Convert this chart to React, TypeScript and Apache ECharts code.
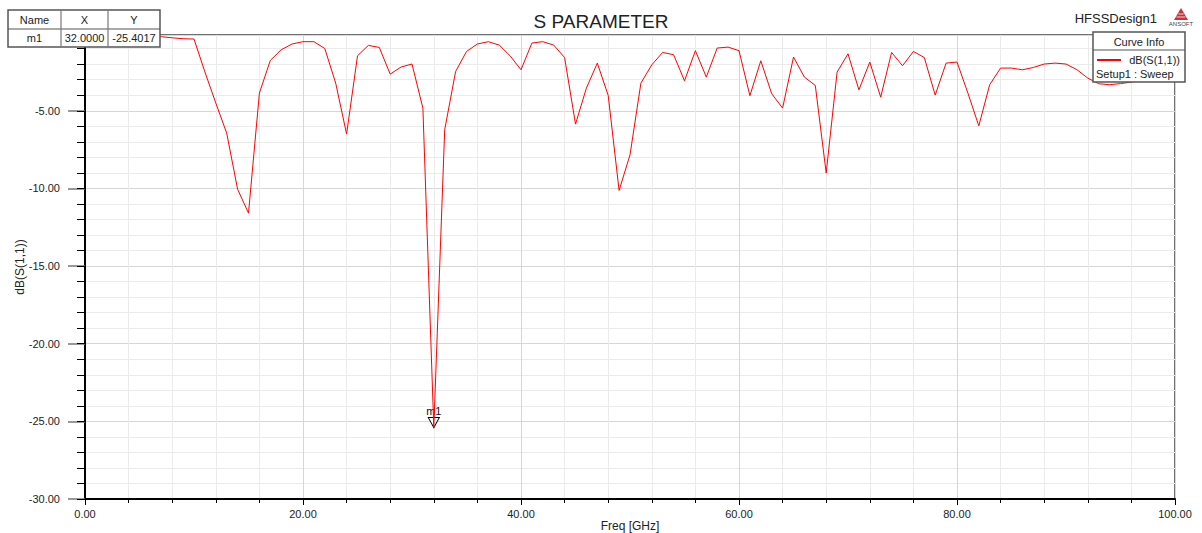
import React, { useEffect, useRef } from "react";
import * as echarts from "echarts";

const freqs: number[] = Array.from({ length: 101 }, (_, i) => i);
const s11: number[] = [
  -0.15, -0.15, -0.16, -0.17, -0.18, -0.2, -0.21, -0.23, -0.3, -0.36,
  -0.38, -2.5, -4.5, -6.44, -10.05, -11.59, -3.86, -1.76, -1.07, -0.7,
  -0.55, -0.55, -0.99, -3.22, -6.5, -1.46, -0.79, -0.92, -2.64, -2.18,
  -1.99, -4.83, -25.4017, -6.22, -2.47, -1.18, -0.7, -0.55, -0.77, -1.46,
  -2.36, -0.64, -0.55, -0.77, -1.57, -5.86, -3.54, -1.93, -4.01, -10.13,
  -7.84, -3.22, -2.04, -1.24, -1.39, -3.07, -1.13, -2.83, -0.96, -0.9,
  -1.13, -4.03, -1.78, -3.9, -4.83, -1.54, -2.83, -3.37, -9.01, -2.51,
  -1.33, -3.65, -1.86, -4.12, -1.24, -2.1, -1.18, -1.57, -3.99, -1.93,
  -1.86, -3.86, -5.97, -3.32, -2.25, -2.25, -2.36, -2.21, -1.99, -1.93,
  -1.99, -2.35, -2.9, -3.26, -3.32, -3.25, -3.15, -3.05, -2.95, -2.85,
  -2.75,
];
const markerName = "m1";
const markerX = 32;
const markerY = -25.4017;
const tableHeaders = ["Name", "X", "Y"];
const tableRow = ["m1", "32.0000", "-25.4017"];
const xAxisName = "Freq [GHz]";
const yAxisName = "dB(S(1,1))";

const FONT = "'Liberation Sans', Arial, sans-serif";

export default function App() {
  const ref = useRef<HTMLDivElement>(null);
  useEffect(() => {
    if (!ref.current) return;
    const chart = echarts.init(ref.current, undefined, { renderer: "svg" });
    const major = "#d6d6d6";
    const minor = "#ebebeb";
    const txt = { fontFamily: FONT, fontSize: 11, fill: "#222" };
    const colX = [8, 61, 108, 160];
    const option: any = {
      animation: false,
      backgroundColor: "#fff",
      textStyle: { fontFamily: FONT },
      title: {
        text: "S PARAMETER",
        left: "center",
        top: 7,
        textStyle: { fontFamily: FONT, fontSize: 19, fontWeight: "normal", color: "#222" },
      },
      grid: {
        left: 85,
        right: 27,
        top: 35,
        bottom: 34,
        containLabel: false,
        outerBoundsMode: "none",
        show: true,
        borderColor: "#444",
        borderWidth: 1.5,
        backgroundColor: "transparent",
      },
      xAxis: [
        {
          type: "value",
          min: 0,
          max: 100,
          interval: 20,
          position: "bottom",
          axisLine: { show: true, lineStyle: { color: "#000", width: 2 } },
          axisTick: { show: true, length: 6, lineStyle: { color: "#000" } },
          axisLabel: {
            margin: 9,
            fontFamily: FONT,
            fontSize: 11,
            color: "#222",
            formatter: (v: number) => v.toFixed(2),
          },
          splitLine: { show: false },
        },
        {
          type: "value",
          min: 0,
          max: 100,
          interval: 4,
          position: "bottom",
          axisLine: { show: false },
          axisTick: { show: true, length: 4, lineStyle: { color: "#000" } },
          axisLabel: { show: false },
          splitLine: {
            show: true,
            lineStyle: { color: [major, minor, minor, minor, minor], width: 1 },
          },
        },
      ],
      yAxis: [
        {
          type: "value",
          min: -30,
          max: -0.12,
          interval: 5,
          position: "left",
          axisLine: { show: true, lineStyle: { color: "#000", width: 2 } },
          axisTick: { show: true, length: 17, lineStyle: { color: "#777", width: 1.5 } },
          axisLabel: {
            margin: 25,
            fontFamily: FONT,
            fontSize: 11,
            color: "#222",
            showMaxLabel: false,
            formatter: (v: number) => v.toFixed(2),
          },
          splitLine: { show: false },
        },
        {
          type: "value",
          min: -30,
          max: -0.12,
          interval: 1,
          position: "left",
          axisLine: { show: false },
          axisTick: { show: true, length: 8, lineStyle: { color: "#000" } },
          axisLabel: { show: false },
          splitLine: {
            show: true,
            lineStyle: { color: [major, minor, minor, minor, minor], width: 1 },
          },
        },
      ],
      series: [
        {
          type: "line",
          xAxisIndex: 0,
          yAxisIndex: 0,
          data: freqs.map((f, i) => [f, s11[i]]),
          showSymbol: false,
          symbol: "none",
          lineStyle: { color: "#ff0000", width: 1 },
          itemStyle: { color: "#ff0000" },
          z: 5,
          markPoint: {
            symbol: "triangle",
            symbolRotate: 180,
            symbolSize: [11, 10],
            symbolOffset: [0, -5],
            itemStyle: { color: "#fff", borderColor: "#000", borderWidth: 1 },
            label: {
              show: true,
              position: "top",
              distance: 1,
              formatter: markerName,
              fontFamily: FONT,
              fontSize: 11,
              color: "#111",
            },
            data: [{ coord: [markerX, markerY] }],
          },
        },
      ],
      graphic: [
        {
          type: "text",
          x: 630,
          y: 526,
          style: { fontFamily: FONT, fontSize: 12, fill: "#222", text: xAxisName, textAlign: "center", textVerticalAlign: "middle" },
          z: 100,
        },
        {
          type: "text",
          x: 20,
          y: 267,
          rotation: Math.PI / 2,
          style: { fontFamily: FONT, fontSize: 12, fill: "#222", text: yAxisName, textAlign: "center", textVerticalAlign: "middle" },
          z: 100,
        },
        {
          type: "rect",
          shape: { x: 8, y: 10, width: 152, height: 37 },
          style: { fill: "#fff", stroke: "#555", lineWidth: 1.5 },
          z: 100,
        },
        { type: "line", shape: { x1: 8, y1: 29, x2: 160, y2: 29 }, style: { stroke: "#555", lineWidth: 1.2 }, z: 101 },
        { type: "line", shape: { x1: 61, y1: 10, x2: 61, y2: 47 }, style: { stroke: "#777", lineWidth: 1.2 }, z: 101 },
        { type: "line", shape: { x1: 108, y1: 10, x2: 108, y2: 47 }, style: { stroke: "#777", lineWidth: 1.2 }, z: 101 },
        ...tableHeaders.map((t, i) => ({
          type: "text",
          x: (colX[i] + colX[i + 1]) / 2,
          y: 20,
          style: { ...txt, text: t, textAlign: "center", textVerticalAlign: "middle" },
          z: 102,
        })),
        ...tableRow.map((t, i) => ({
          type: "text",
          x: (colX[i] + colX[i + 1]) / 2,
          y: 38,
          style: { ...txt, text: t, textAlign: "center", textVerticalAlign: "middle" },
          z: 102,
        })),
        {
          type: "text",
          x: 1157,
          y: 18,
          style: { fontFamily: FONT, fontSize: 13, fill: "#222", text: "HFSSDesign1", textAlign: "right", textVerticalAlign: "middle" },
          z: 100,
        },
        {
          type: "polygon",
          shape: { points: [[1181, 8], [1174, 20], [1188, 20]] },
          style: { fill: "#c9303a" },
          z: 100,
        },
        { type: "line", shape: { x1: 1176.5, y1: 17, x2: 1185.5, y2: 17 }, style: { stroke: "#fff", lineWidth: 0.8 }, z: 101 },
        { type: "line", shape: { x1: 1178.3, y1: 14, x2: 1183.7, y2: 14 }, style: { stroke: "#fff", lineWidth: 0.8 }, z: 101 },
        {
          type: "text",
          x: 1181,
          y: 24,
          style: { fontFamily: FONT, fontSize: 6, fill: "#444", text: "ANSOFT", textAlign: "center", textVerticalAlign: "middle" },
          z: 100,
        },
        {
          type: "rect",
          shape: { x: 1093, y: 32, width: 92, height: 50 },
          style: { fill: "#fff", stroke: "#555", lineWidth: 1.5 },
          z: 100,
        },
        { type: "line", shape: { x1: 1093, y1: 50, x2: 1185, y2: 50 }, style: { stroke: "#555", lineWidth: 1.2 }, z: 101 },
        {
          type: "text",
          x: 1139,
          y: 42,
          style: { ...txt, text: "Curve Info", textAlign: "center", textVerticalAlign: "middle" },
          z: 102,
        },
        { type: "line", shape: { x1: 1097, y1: 60, x2: 1121, y2: 60 }, style: { stroke: "#ff0000", lineWidth: 2 }, z: 102 },
        {
          type: "text",
          x: 1180,
          y: 60,
          style: { ...txt, text: "dB(S(1,1))", textAlign: "right", textVerticalAlign: "middle" },
          z: 102,
        },
        {
          type: "text",
          x: 1096,
          y: 74,
          style: { ...txt, text: "Setup1 : Sweep", textAlign: "left", textVerticalAlign: "middle" },
          z: 102,
        },
      ],
    };
    chart.setOption(option);
    return () => chart.dispose();
  }, []);
  return (
    <div
      ref={ref}
      style={{ position: "absolute", left: 0, top: 0, width: 1202, height: 533 }}
    />
  );
}
